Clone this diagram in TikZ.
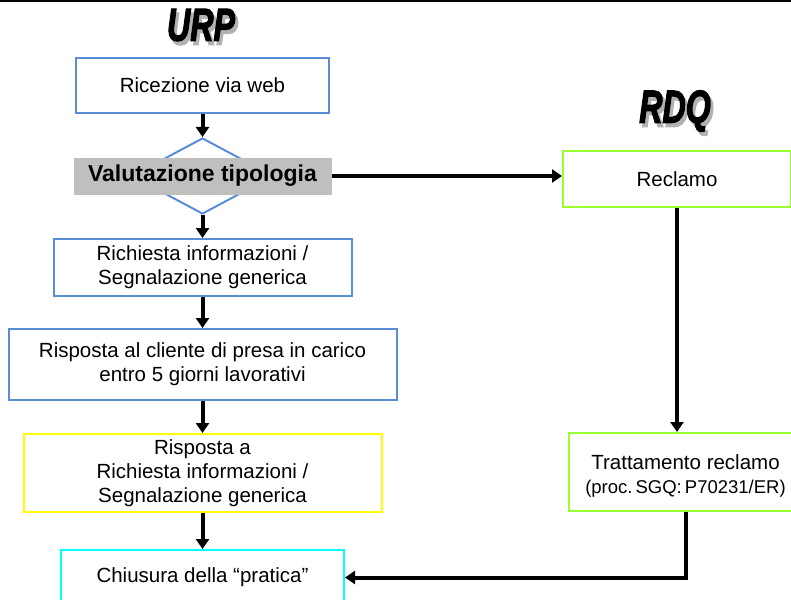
\documentclass[tikz,border=0pt]{standalone}
\usepackage{fontspec}
\setmainfont{Liberation Sans}
\newfontface\titlefont{Liberation Sans Bold Italic}[FakeBold=3]
\usepackage{xcolor}
\usepackage{tikz}
\usetikzlibrary{arrows.meta,positioning,shapes.geometric}

\definecolor{boxblue}{RGB}{88,142,214}
\definecolor{boxgreen}{RGB}{153,255,51}
\definecolor{boxyellow}{RGB}{255,255,0}
\definecolor{boxcyan}{RGB}{0,255,255}
\definecolor{labgray}{RGB}{191,191,191}

\newcommand{\shadowtitle}[1]{\makebox[0pt][l]{\hspace{4pt}\raisebox{-4pt}{\textcolor{gray!60}{#1}}}#1}

\begin{document}
\begin{tikzpicture}[
			x=1pt, y=-1pt,
			b/.style={rectangle, draw=#1, line width=2pt, align=center, inner sep=0pt,
				font=\fontsize{20.5}{24}\selectfont},
			b/.default=boxblue,
			arr/.style={line width=4pt, -{Triangle[length=10pt,width=13pt]}},
			title/.style={font=\fontsize{46}{46}\selectfont\titlefont, xscale=0.7, inner sep=0pt},
			>=Triangle
			]
			\useasboundingbox (0,0) rectangle (791,599);
			\clip (0,0) rectangle (791,599);
			
			% Linea in alto
			\draw[line width=2pt] (0,1) -- (791,1);
			
			% Titoli
			\node[title] (urp) at (201,27) {\shadowtitle{URP}};
			\node[title] (rdq) at (675,113) {\shadowtitle{RDQ}};
			
			% Colonna URP
			\node[b, minimum width=253pt, minimum height=55pt] (ric) at (202.5,85.5) {Ricezione via web};
			\node[diamond, draw=boxblue, line width=2pt, minimum width=142pt, minimum height=76pt,
				inner sep=0pt, below=23pt of ric] (dia) {};
			\node[fill=labgray, minimum width=258pt, minimum height=37pt, inner sep=0pt,
				font=\fontsize{23}{24}\selectfont\bfseries] (val) at (dia) {Valutazione tipologia};
			\node[b, minimum width=298pt, minimum height=57pt, below=23pt of dia] (rich)
				{Richiesta informazioni /\\Segnalazione generica};
			\node[b, minimum width=388pt, minimum height=71pt, below=31pt of rich] (risp)
				{Risposta al cliente di presa in carico\\entro 5 giorni lavorativi};
			\node[b=boxyellow, minimum width=358pt, minimum height=78pt, below=32pt of risp] (rispa)
				{Risposta a\\Richiesta informazioni /\\Segnalazione generica};
			\node[b=boxcyan, minimum width=283pt, minimum height=55pt, below=36pt of rispa] (chi)
				{Chiusura della “pratica”};
			
			% Colonna RDQ
			\node[b=boxgreen, minimum width=228pt, minimum height=56pt] (rec) at (677,179) {Reclamo};
			\node[b=boxgreen, minimum width=233pt, minimum height=78pt] (trat) at (685.5,472)
				{\rule{0pt}{22pt}Trattamento reclamo\\{\fontsize{18.5}{20}\selectfont (proc.\,SGQ:\,P70231/ER)}};
			
			% Frecce
			\draw[arr] (ric) -- (dia);
			\draw[arr] (dia) -- (rich);
			\draw[arr] (rich) -- (risp);
			\draw[arr] (risp) -- (rispa);
			\draw[arr] (rispa) -- (chi);
			\draw[arr] (val) -- (val -| rec.west);
			\draw[arr] (rec) -- (rec |- trat.north);
			\draw[arr] (trat.south) |- (chi.east);
			
		\end{tikzpicture}
\end{document}
